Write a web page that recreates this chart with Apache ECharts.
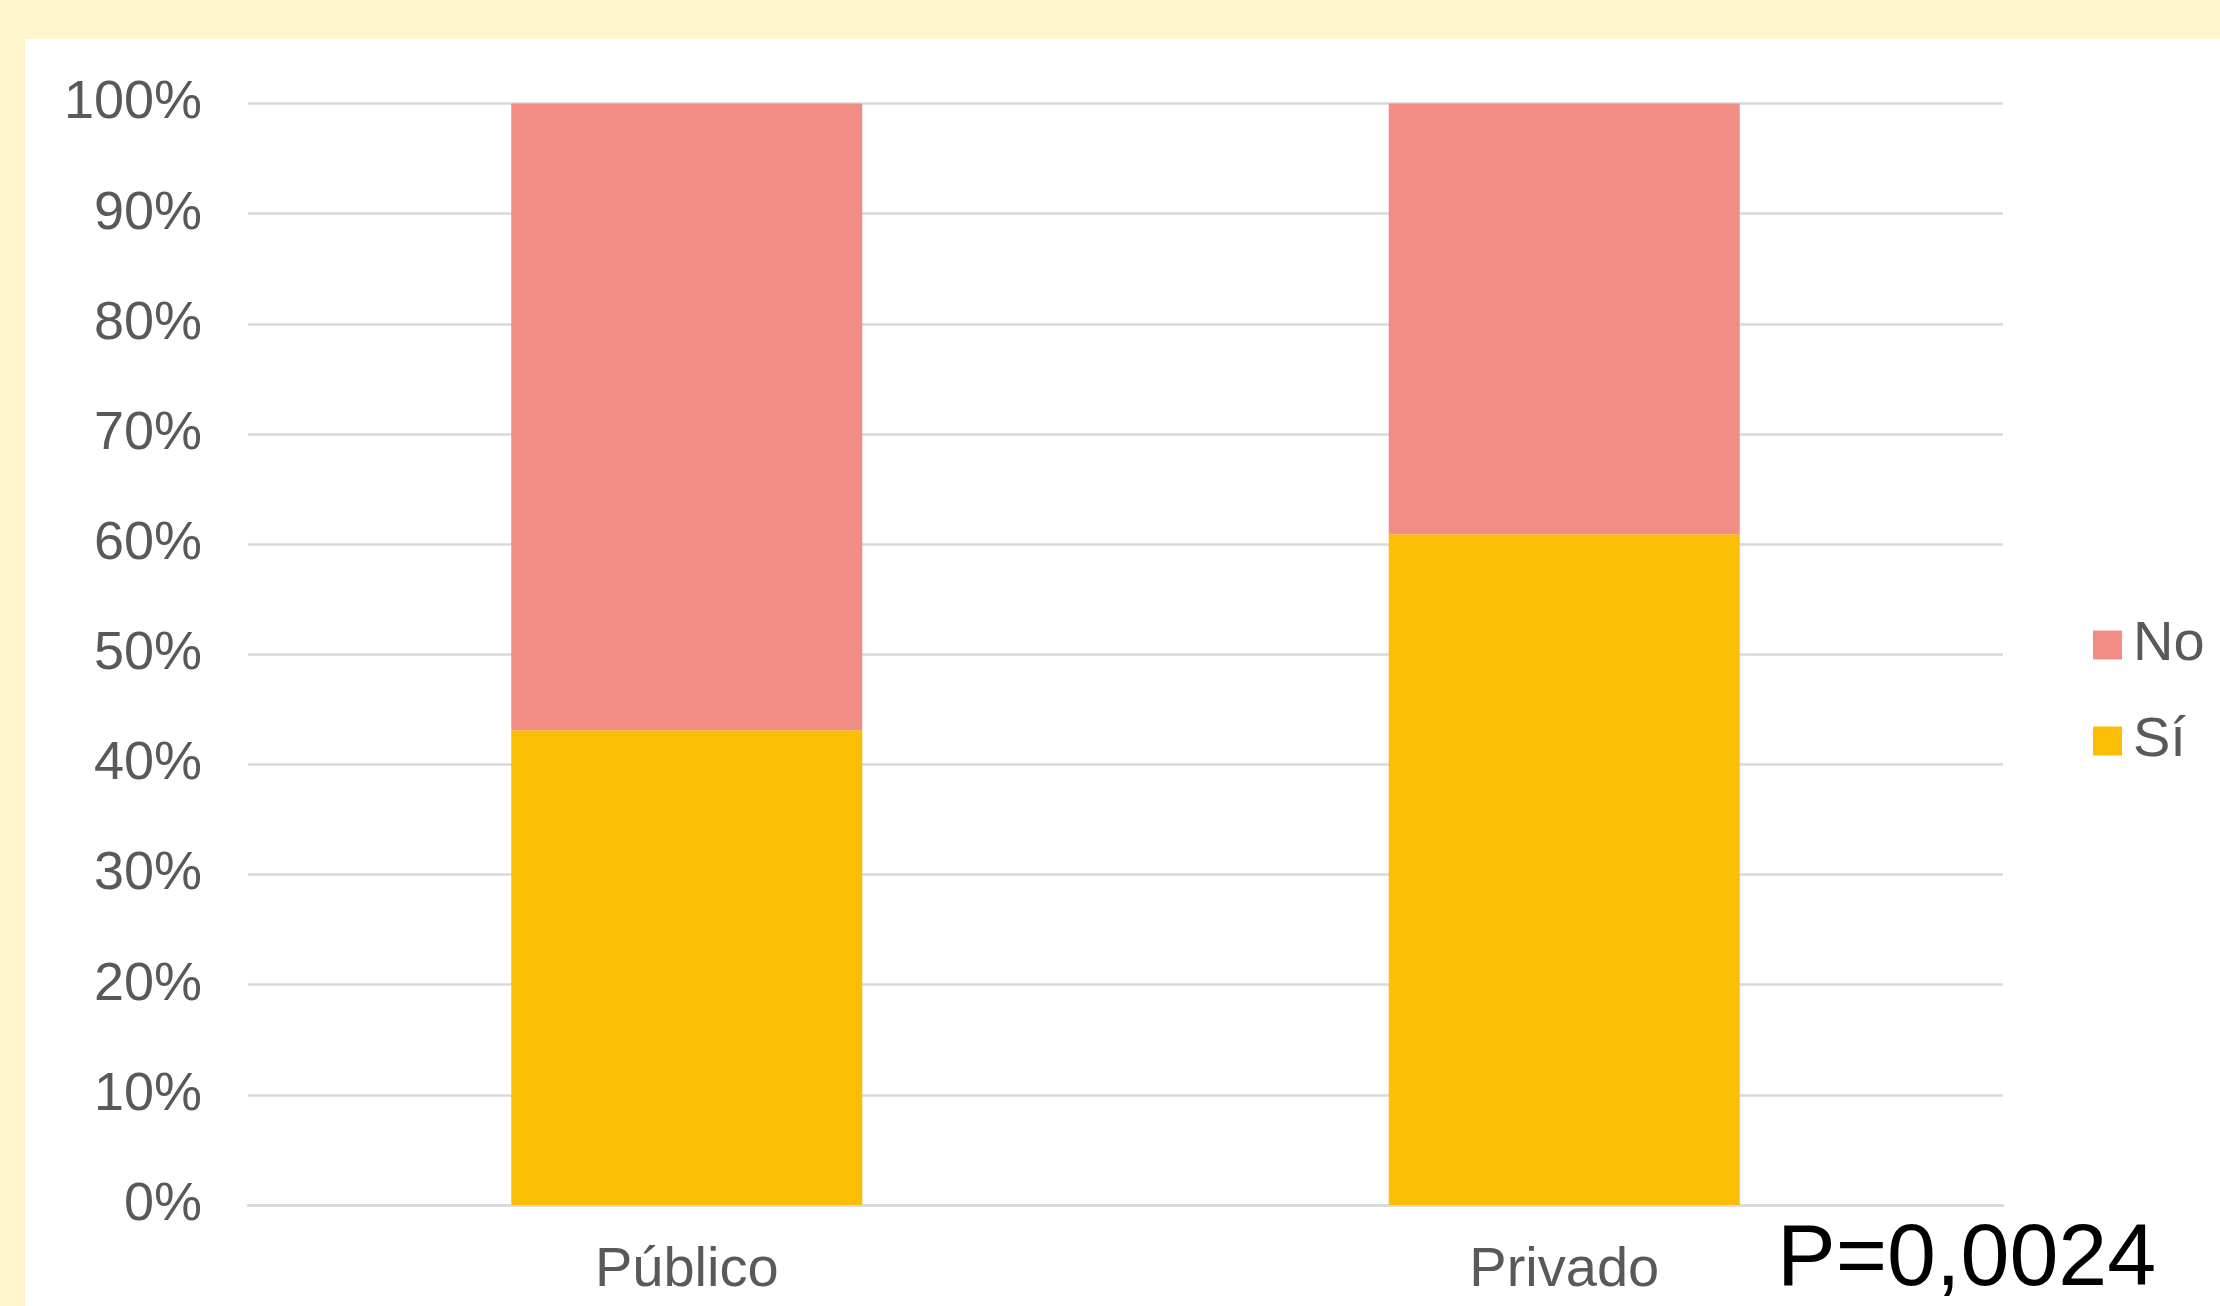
<!DOCTYPE html>
<html><head><meta charset="utf-8">
<script src="https://cdn.jsdelivr.net/npm/echarts@6/dist/echarts.min.js"></script>
<style>
html,body{margin:0;padding:0;background:#FFF5CC;width:2220px;height:1306px;overflow:hidden;}
#c{position:absolute;left:25px;top:39px;width:2195px;height:1267px;background:#FFFFFF;}
</style></head>
<body><div id="c"></div>
<script>
const categories = ['Público', 'Privado'];
const seriesNames = ['Sí', 'No'];
const valuesSi = [43.1, 60.9];
const valuesNo = [56.9, 39.1];
const legendOrder = ['No', 'Sí'];
const pText = 'P=0,0024';

const chart = echarts.init(document.getElementById('c'), null, {renderer: 'canvas'});
const font = '"Liberation Sans", Arial, sans-serif';
chart.setOption({
  animation: false,
  grid: {left: 223, top: 64.5, right: 217, bottom: 101, containLabel: false},
  legend: {
    data: legendOrder,
    orient: 'vertical',
    left: 2063, top: 573,
    itemWidth: 29, itemHeight: 29, itemGap: 40,
    icon: 'rect',
    textStyle: {fontFamily: font, fontSize: 56, color: '#595959', lineHeight: 56, padding: [0,0,0,6]}
  },
  xAxis: {
    type: 'category', data: categories,
    axisLine: {lineStyle: {color: '#D9D9D9', width: 2.5}},
    axisTick: {show: false},
    axisLabel: {fontFamily: font, fontSize: 56, color: '#595959', margin: 38}
  },
  yAxis: {
    type: 'value', min: 0, max: 100, interval: 10,
    axisLine: {show: false}, axisTick: {show: false},
    splitLine: {lineStyle: {color: '#D9D9D9', width: 2.5}},
    axisLabel: {fontFamily: font, fontSize: 54, color: '#595959', margin: 46, formatter: '{value}%'}
  },
  series: [
    {name: seriesNames[0], type: 'bar', stack: 't', data: valuesSi, barCategoryGap: '60%', itemStyle: {color: '#FABE04'}},
    {name: seriesNames[1], type: 'bar', stack: 't', data: valuesNo, barCategoryGap: '60%', itemStyle: {color: '#F28D85'}}
  ],
  graphic: [{
    type: 'text', left: 1752, top: 1178,
    style: {text: pText, font: '88px "Liberation Sans", Arial, sans-serif', fill: '#000000'}
  }]
});
</script></body></html>
